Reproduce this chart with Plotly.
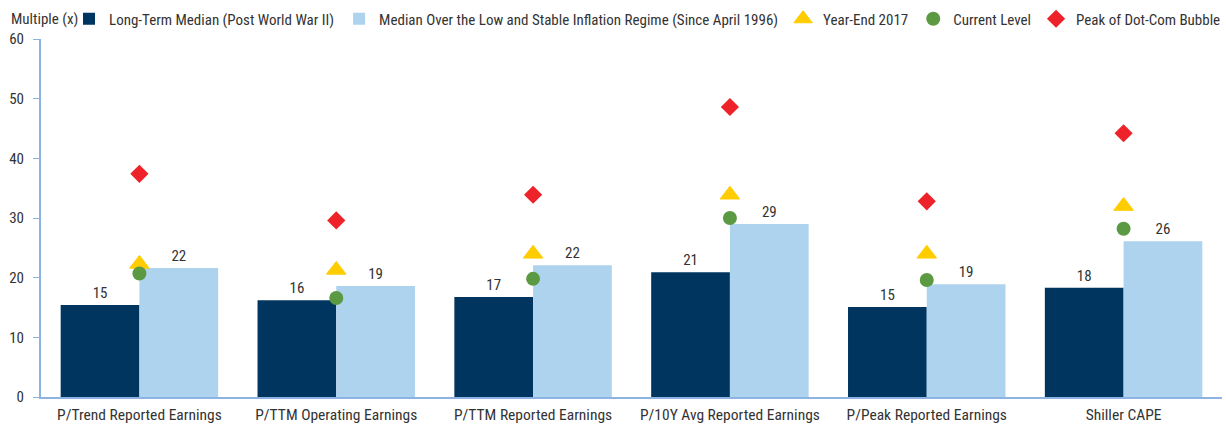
import plotly.graph_objects as go

categories = ["P/Trend Reported Earnings", "P/TTM Operating Earnings", "P/TTM Reported Earnings",
              "P/10Y Avg Reported Earnings", "P/Peak Reported Earnings", "Shiller CAPE"]
long_term_median = [15.4, 16.2, 16.75, 20.9, 15.1, 18.3]
low_inflation_median = [21.6, 18.6, 22.1, 29.0, 18.9, 26.1]
year_end_2017 = [22.3, 21.3, 24.0, 33.9, 24.0, 32.0]
current_level = [20.7, 16.6, 19.8, 30.0, 19.6, 28.2]
dotcom_peak = [37.4, 29.6, 33.9, 48.6, 32.8, 44.2]
y_ticks = [0, 10, 20, 30, 40, 50, 60]

FONT = "Liberation Sans Narrow, Roboto Condensed, DejaVu Sans Condensed, Arial Narrow, sans-serif"
TXT = "#333333"
AXIS = "#8DB3E2"
W, H = 1226, 425
ML, MR, MT, MB = 41, 4, 39, 28
PW, PH = W - ML - MR, H - MT - MB

fig = go.Figure()
fig.add_trace(go.Bar(x=categories, y=long_term_median, name="Long-Term Median (Post World War II)",
                     marker=dict(color="#00355F", line=dict(width=0)),
                     texttemplate="%{y:.0f}", textposition="outside",
                     textfont=dict(family=FONT, size=15, color=TXT), cliponaxis=False))
fig.add_trace(go.Bar(x=categories, y=low_inflation_median,
                     name="Median Over the Low and Stable Inflation Regime (Since April 1996)",
                     marker=dict(color="#AED3EF", line=dict(width=0)),
                     texttemplate="%{y:.0f}", textposition="outside",
                     textfont=dict(family=FONT, size=15, color=TXT), cliponaxis=False))
fig.add_trace(go.Scatter(x=categories, y=year_end_2017, name="Year-End 2017", mode="markers",
                         marker=dict(symbol="triangle-up", size=17, color="#FFCC00",
                                     line=dict(width=1, color="#FFCC00"))))
fig.add_trace(go.Scatter(x=categories, y=current_level, name="Current Level", mode="markers",
                         marker=dict(symbol="circle", size=14, color="#5B9A42", line=dict(width=0))))
fig.add_trace(go.Scatter(x=categories, y=dotcom_peak, name="Peak of Dot-Com Bubble", mode="markers",
                         marker=dict(symbol="diamond", size=14, color="#EE2229", line=dict(width=0))))

fig.update_layout(
    width=W, height=H,
    margin=dict(l=ML, r=MR, t=MT, b=MB, autoexpand=False),
    paper_bgcolor="white", plot_bgcolor="white",
    font=dict(family=FONT, size=15, color=TXT),
    barmode="group", bargap=0.2, bargroupgap=0,
    hovermode=False,
    showlegend=True,
    legend=dict(orientation="h", xref="container", yref="container",
                x=(91 - 22) / W, xanchor="left", y=1 - 19 / H, yanchor="middle",
                font=dict(family=FONT, size=15, color=TXT),
                itemwidth=30, bgcolor="rgba(0,0,0,0)", borderwidth=0),
    annotations=[dict(text="Multiple (x)", xref="paper", yref="paper",
                      x=(9 - ML) / PW, y=1 + (MT - 19) / PH,
                      xanchor="left", yanchor="middle", showarrow=False,
                      font=dict(family=FONT, size=15, color=TXT))],
)
fig.update_xaxes(showline=True, linecolor=AXIS, linewidth=2, ticks="", showgrid=False,
                 ticklabelstandoff=2, tickfont=dict(family=FONT, size=15.5, color=TXT))
fig.update_yaxes(range=[0, 60], tickvals=y_ticks, showline=True, linecolor=AXIS, linewidth=2,
                 ticks="outside", ticklen=6, tickcolor=AXIS, showgrid=False, zeroline=False,
                 ticklabelstandoff=6, tickfont=dict(family=FONT, size=15, color=TXT))
fig.write_html("out.html", config={"displayModeBar": False, "staticPlot": False},
               post_script="document.body.style.margin='0';document.body.style.padding='0';")
